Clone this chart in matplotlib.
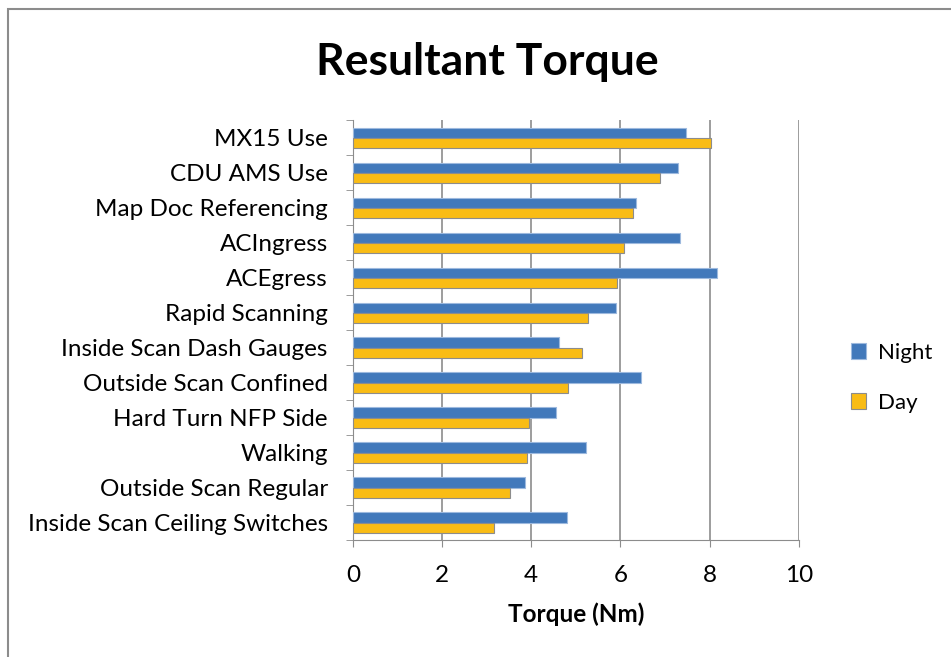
import matplotlib.pyplot as plt
import numpy as np
from matplotlib.patches import Rectangle

plt.rcParams['font.family'] = ['Lato', 'DejaVu Sans']

# categories listed bottom to top
categories = ['Inside Scan Ceiling Switches', 'Outside Scan Regular', 'Walking',
              'Hard Turn NFP Side', 'Outside Scan Confined', 'Inside Scan Dash Gauges',
              'Rapid Scanning', 'ACEgress', 'ACIngress', 'Map Doc Referencing',
              'CDU AMS Use', 'MX15 Use']
night = [4.81, 3.86, 5.23, 4.55, 6.47, 4.63, 5.90, 8.17, 7.33, 6.35, 7.30, 7.47]
day = [3.16, 3.53, 3.90, 3.96, 4.82, 5.14, 5.28, 5.93, 6.08, 6.29, 6.89, 8.04]

fig = plt.figure(figsize=(9.51, 6.57), dpi=100)
ax = fig.add_axes([0.371, 0.178, 0.469, 0.639])

y = np.arange(len(categories))
h = 0.29
ax.barh(y + h / 2, night, height=h, color='#4279BB', edgecolor='#9DB9DE',
        linewidth=0.8, label='Night', zorder=3)
ax.barh(y - h / 2, day, height=h, color='#F9BC15', edgecolor='#8C8C8C',
        linewidth=0.8, label='Day', zorder=3)

ax.set_xlim(0, 10)
ax.set_ylim(-0.5, len(categories) - 0.5)
ax.set_xticks([0, 2, 4, 6, 8, 10])
ax.set_yticks(y)
ax.set_yticklabels(categories)
ax.set_yticks(np.arange(-0.5, len(categories)), minor=True)
ax.tick_params(axis='y', which='major', length=0, labelsize=17.5, pad=18)
ax.tick_params(axis='y', which='minor', length=5, color='#8C8C8C')
ax.tick_params(axis='x', length=5, color='#8C8C8C', labelsize=17.5, pad=13)
ax.grid(axis='x', color='#8C8C8C', linewidth=1.2, zorder=0)
for s in ['top', 'right']:
    ax.spines[s].set_visible(False)
for s in ['left', 'bottom']:
    ax.spines[s].set_color('#8C8C8C')
ax.set_xlabel('Torque (Nm)', fontsize=17.5, fontweight='bold', labelpad=12)

fig.text(0.512, 0.905, 'Resultant Torque', ha='center', va='center',
         fontsize=32, fontweight='bold')

leg = fig.legend(loc='center left', bbox_to_anchor=(0.89, 0.425), frameon=False,
                 fontsize=16, handlelength=0.7, handleheight=0.7,
                 labelspacing=1.35, handletextpad=0.5, borderaxespad=0,
                 borderpad=0.2)

fig.patches.append(Rectangle((0.008, -0.01), 1.5, 0.997, transform=fig.transFigure,
                             fill=False, edgecolor='#8C8C8C', linewidth=1.5))

fig.savefig('out.png', dpi=100)
